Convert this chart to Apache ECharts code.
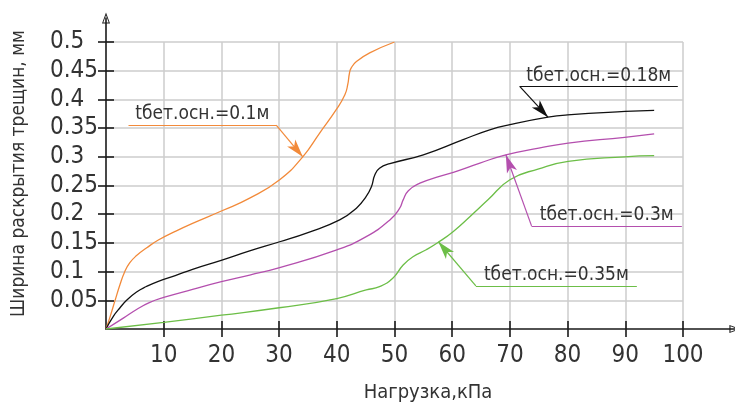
<!DOCTYPE html>
<html><head><meta charset="utf-8">
<script src="https://cdn.jsdelivr.net/npm/echarts@6/dist/echarts.min.js"></script>
<style>html,body{margin:0;padding:0;background:#fff}#c{width:735px;height:403px}</style>
</head><body><div id="c"></div>
<script>
// ---- tick labels / names ----
const xTicks = [10, 20, 30, 40, 50, 60, 70, 80, 90, 100];
const yTicks = [0.05, 0.1, 0.15, 0.2, 0.25, 0.3, 0.35, 0.4, 0.45, 0.5];
const xName = 'Нагрузка,кПа';
const yName = 'Ширина раскрытия трещин, мм';

// ---- series: tбет.осн. = 0.1 м ----
const x01 = [0, 0.73, 1.56, 2.43, 3.23, 4.1, 5.3, 7.0, 9.07, 12, 15, 20.1, 24.9, 30.1, 34.1, 37, 39.9, 41.4, 41.9, 42.2, 42.5, 43.4, 45.7, 50];
const y01 = [0, 0.022, 0.0495, 0.0775, 0.0994, 0.115, 0.128, 0.141, 0.155, 0.17, 0.184, 0.206, 0.228, 0.26, 0.3, 0.341, 0.382, 0.408, 0.426, 0.446, 0.455, 0.466, 0.481, 0.5];
// ---- series: 0.18 м ----
const x018 = [0, 1.27, 2.43, 3.57, 5.3, 7.0, 9.07, 12, 15, 20.1, 24.9, 30.1, 35, 40.5, 43.4, 45.1, 46, 46.6, 47.4, 49.2, 55, 61.9, 66.5, 70, 76.6, 80, 90, 95];
const y018 = [0, 0.022, 0.037, 0.05, 0.0645, 0.074, 0.083, 0.093, 0.104, 0.12, 0.136, 0.152, 0.168, 0.19, 0.2105, 0.231, 0.248, 0.2686, 0.28, 0.288, 0.3035, 0.33, 0.347, 0.356, 0.369, 0.373, 0.379, 0.381];
// ---- series: 0.3 м ----
const x03 = [0, 3.0, 5.3, 7.5, 10, 15, 20, 24.9, 30.1, 40, 45.1, 49.2, 50.9, 51.5, 52.4, 54.4, 57.8, 60.2, 64.8, 69.3, 75, 80.1, 89.9, 95];
const y03 = [0, 0.019, 0.034, 0.046, 0.055, 0.069, 0.0825, 0.094, 0.107, 0.138, 0.161, 0.19, 0.2105, 0.225, 0.241, 0.254, 0.266, 0.273, 0.289, 0.3035, 0.315, 0.324, 0.334, 0.34];
// ---- series: 0.35 м ----
const x035 = [0, 10, 20, 30, 40, 45.1, 47.4, 49.7, 51.5, 53.2, 55.5, 57.6, 60.2, 63.1, 66.2, 70, 75, 80.1, 89.9, 95];
const y035 = [0, 0.0115, 0.024, 0.037, 0.053, 0.068, 0.0738, 0.0884, 0.1116, 0.126, 0.138, 0.151, 0.17, 0.196, 0.225, 0.26, 0.279, 0.292, 0.30, 0.302];

// ---- annotations (data coordinates) ----
const annText = ['tбет.осн.=0.1м', 'tбет.осн.=0.18м', 'tбет.осн.=0.3м', 'tбет.осн.=0.35м'];
const annShelfFrom = [3.9, 71.7, 73.75, 64.1];
const annShelfTo = [29.5, 99.1, 99.8, 92.0];
const annShelfY = [0.3553, 0.4226, 0.1797, 0.075];
const annLeaderX = [29.5, 71.7, 73.75, 64.1];
const annTipX = [34.1, 76.6, 69.3, 57.6];
const annTipY = [0.300, 0.369, 0.3035, 0.152];

const seriesX = [x01, x018, x03, x035];
const seriesY = [y01, y018, y03, y035];
const colors = ['#F28A3A', '#111111', '#B44FAE', '#6CBE47'];

const FONT = "'Liberation Sans Narrow','DejaVu Sans Condensed','Liberation Sans',sans-serif";
const TXT = '#333333';
const AXC = '#1a1a1a';
const ARROW = 'path://M5,0L10,14L0,14Z M5,3.5L1.6,12.6L8.4,12.6Z';

const series = seriesX.map((xs, i) => ({
  type: 'line',
  xAxisIndex: 0, yAxisIndex: 0,
  data: xs.map((x, j) => [x, seriesY[i][j]]),
  showSymbol: false,
  smooth: 0.5,
  lineStyle: { color: colors[i], width: 1.3 },
  itemStyle: { color: colors[i] },
  z: 3,
  markLine: {
    silent: true,
    animation: false,
    symbol: ['none', 'none'],
    lineStyle: { color: colors[i], width: 1.2, type: 'solid' },
    label: { show: false },
    emphasis: { disabled: true },
    data: [
      [
        { coord: [annShelfFrom[i], annShelfY[i]],
          label: { show: true, position: 'insideMiddleTop', distance: 1, formatter: annText[i],
                   color: TXT, fontSize: 19, fontFamily: FONT } },
        { coord: [annShelfTo[i], annShelfY[i]] }
      ],
      [
        { coord: [annLeaderX[i], annShelfY[i]] },
        { coord: [annTipX[i], annTipY[i]], symbol: 'arrow', symbolSize: [8, 18] }
      ]
    ]
  }
}));

const chart = echarts.init(document.getElementById('c'), null, { renderer: 'canvas' });
chart.setOption({
  animation: false,
  backgroundColor: '#ffffff',
  grid: [
    { left: 106, top: 42, width: 577, height: 287 },
    { left: 106, top: 18, right: 0, height: 311 }
  ],
  xAxis: [
    { gridIndex: 0, type: 'value', min: 0, max: 100, interval: 10,
      axisLine: { show: false },
      axisTick: { show: true, customValues: xTicks, length: 8, lineStyle: { color: AXC, width: 1.6 } },
      axisLabel: { customValues: xTicks, margin: 15, fontSize: 24, color: TXT, fontFamily: FONT },
      splitLine: { show: true, lineStyle: { color: '#cdcdcd', width: 1.5 } } },
    { gridIndex: 0, type: 'value', min: 0, max: 100, interval: 10, position: 'bottom',
      axisLine: { show: false },
      axisTick: { show: true, inside: true, customValues: xTicks, length: 8, lineStyle: { color: AXC, width: 1.6 } },
      axisLabel: { show: false }, splitLine: { show: false } },
    { gridIndex: 1, type: 'value', min: 0, max: 1,
      axisLine: { show: true, lineStyle: { color: AXC, width: 1.6 }, symbol: ['none', ARROW], symbolSize: [8, 13] },
      axisTick: { show: false }, axisLabel: { show: false }, splitLine: { show: false } }
  ],
  yAxis: [
    { gridIndex: 0, type: 'value', min: 0, max: 0.5, interval: 0.05,
      axisLine: { show: false },
      axisTick: { show: true, customValues: yTicks, length: 8, lineStyle: { color: AXC, width: 1.6 } },
      axisLabel: { customValues: yTicks, margin: 56, align: 'left', fontSize: 24, color: TXT, fontFamily: FONT },
      splitLine: { show: true, lineStyle: { color: '#cdcdcd', width: 1.5 } } },
    { gridIndex: 0, type: 'value', min: 0, max: 0.5, interval: 0.05, position: 'left',
      axisLine: { show: false },
      axisTick: { show: true, inside: true, customValues: yTicks, length: 8, lineStyle: { color: AXC, width: 1.6 } },
      axisLabel: { show: false }, splitLine: { show: false } },
    { gridIndex: 1, type: 'value', min: 0, max: 1,
      name: yName, nameLocation: 'middle', nameGap: 77,
      nameTextStyle: { fontSize: 19, color: TXT, fontFamily: FONT },
      axisLine: { show: true, lineStyle: { color: AXC, width: 1.6 }, symbol: ['none', ARROW], symbolSize: [8, 13] },
      axisTick: { show: false }, axisLabel: { show: false }, splitLine: { show: false } }
  ],
  graphic: [
    { type: 'text', x: 428, y: 393, silent: true,
      style: { text: xName, align: 'center', verticalAlign: 'middle', fontSize: 20, fill: TXT, fontFamily: FONT } }
  ],
  series: series
});
</script></body></html>
